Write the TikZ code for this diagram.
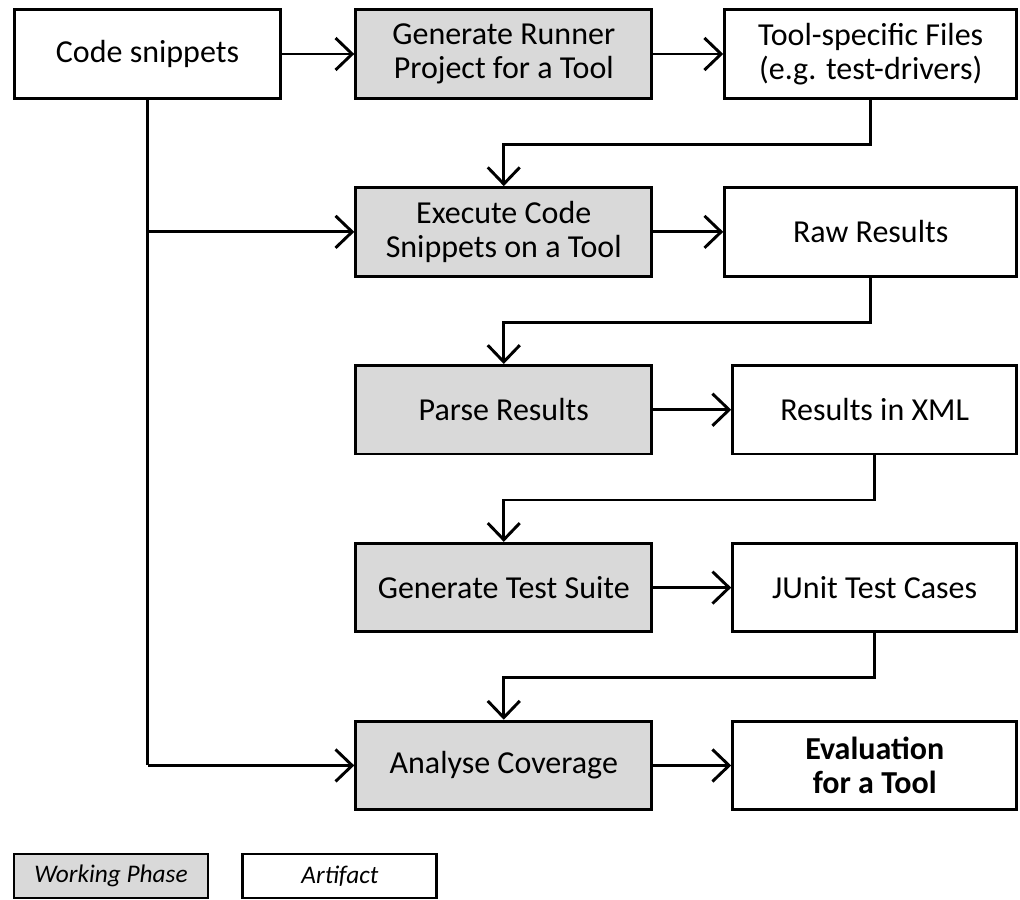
\documentclass[tikz,border=0pt]{standalone}
\usepackage{fontspec}
\setmainfont{Carlito}
\usetikzlibrary{arrows.meta, positioning}
\definecolor{phasegray}{RGB}{217,217,217}

\begin{document}
\begin{tikzpicture}[
  x=0.75pt, y=0.75pt,
  font=\fontsize{24}{25.5}\selectfont,
  arrow/.style={-{Straight Barb[length=12.5pt, width=24pt]}, line width=2.2pt},
  line/.style={line width=2.2pt},
  box/.style={
    draw,
    line width=2.2pt,
    align=center,
    minimum height=66.4pt,
    inner sep=4pt
  },
  artifact/.style={box, fill=white, minimum width=219pt},
  phase/.style={box, fill=phasegray, minimum width=222pt},
  legend/.style={
    draw,
    line width=2.2pt,
    minimum width=145.5pt,
    minimum height=33pt,
    font=\fontsize{19}{21}\selectfont\itshape
  },
  node distance=64.8pt
]
\useasboundingbox (0,0) rectangle (1020,-899);

% =========================
% Top row
% =========================
\node[artifact, minimum width=200pt] (snippets) at (147.5,-54) {Code snippets};
\node[phase, right=54pt of snippets] (runner)
{Generate Runner\\Project for a Tool};
\node[artifact, right=52.5pt of runner] (files)
{Tool-specific Files\\(e.g. test-drivers)};

% =========================
% Middle column (working phases)
% =========================
\node[phase, below=of runner] (execute)
{Execute Code\\Snippets on a Tool};
\node[phase, below=of execute] (parse) {Parse Results};
\node[phase, below=of parse] (suite) {Generate Test Suite};
\node[phase, below=of suite] (coverage) {Analyse Coverage};

% =========================
% Right column (artifacts)
% =========================
\node[artifact, below=of files] (raw) {Raw Results};
\node[artifact, minimum width=213pt, right=58.5pt of parse] (xml)
{Results in XML};
\node[artifact, minimum width=213pt, right=58.5pt of suite] (junit)
{JUnit Test Cases};
\node[artifact, minimum width=213pt, right=58.5pt of coverage] (eval)
{\textbf{Evaluation}\\\textbf{for a Tool}};

% =========================
% Legend
% =========================
\node[legend, fill=phasegray] (lphase) at (111,-876) {Working Phase};
\node[legend, fill=white, right=24pt of lphase] (lartifact) {Artifact};

% =========================
% Connectors
% =========================
\draw[arrow] (snippets) -- (runner);
\draw[arrow] (runner) -- (files);
\draw[arrow] (files.south) -- ++(0,-44.5) -| (execute.north);
\draw[arrow] (execute) -- (raw);
\draw[arrow] (raw.south) -- ++(0,-44.5) -| (parse.north);
\draw[arrow] (parse) -- (xml);
\draw[arrow] (xml.south) -- ++(0,-44.5) -| (suite.north);
\draw[arrow] (suite) -- (junit);
\draw[arrow] (junit.south) -- ++(0,-44.5) -| (coverage.north);
\draw[arrow] (coverage) -- (eval);

\draw[line] (snippets.south) -- (snippets.south |- coverage.west);
\draw[arrow] (snippets.south |- execute.west) -- (execute.west);
\draw[arrow] (snippets.south |- coverage.west) -- (coverage.west);

\end{tikzpicture}
\end{document}
